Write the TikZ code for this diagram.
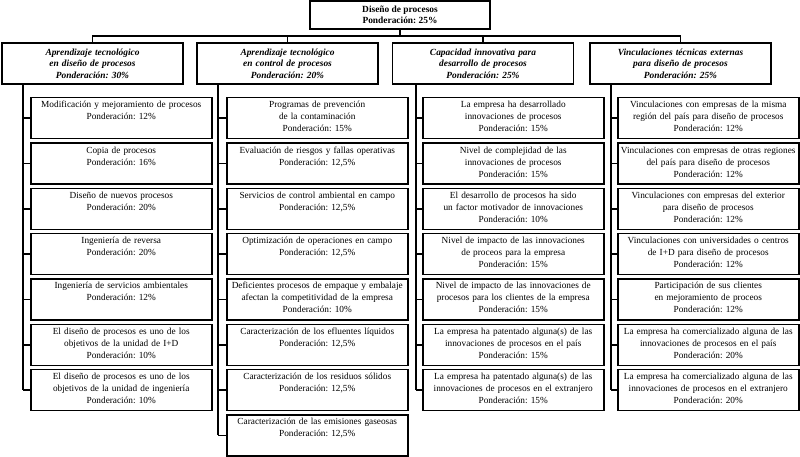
\documentclass[tikz,border=0pt]{standalone}
\usepackage{fontspec}
\setmainfont{Liberation Serif}
\usetikzlibrary{calc}
\usetikzlibrary{positioning}

\tikzset{
  box/.style={draw, rectangle, line width=1.5pt, align=center},
  rootbox/.style={box, minimum width=180pt, minimum height=28pt, inner sep=1pt,
    font=\fontsize{9.4}{11.5}\selectfont\bfseries},
  headbox/.style={box, minimum width=181pt, minimum height=41pt, text width=177pt,
    inner sep=1pt, font=\fontsize{9.4}{11.5}\selectfont\bfseries\itshape},
  leafbox/.style={box, anchor=north west, text width=179pt, inner xsep=1pt,
    inner ysep=3pt, text height=7pt, text depth=28pt},
  link/.style={line width=1.5pt}
}

\begin{document}
\frenchspacing
\begin{tikzpicture}[x=1pt, y=-1pt, font=\fontsize{9.3}{12}\selectfont]
  % Constants
  \pgfmathsetmacro\p{45.3}
  \pgfmathsetmacro\ytop{97}
  % Boundary
  \path[use as bounding box] (0,0) rectangle (800,457);
  % Root and headers
  \node[rootbox] (root) at (400,15) {Diseño de procesos\\Ponderación: 25\%};
  \node[headbox] (h1) at (92.5,63.5) {Aprendizaje tecnológico\\en diseño de procesos\\Ponderación: 30\%};
  \node[headbox] (h2) at (287.5,63.5) {Aprendizaje tecnológico\\en control de procesos\\Ponderación: 20\%};
  \node[headbox] (h3) at (483,63.5) {Capacidad innovativa para\\desarrollo de procesos\\Ponderación: 25\%};
  \node[headbox] (h4) at (680.5,63.5) {Vinculaciones técnicas externas\\para diseño de procesos\\Ponderación: 25\%};
  % Bus
  \coordinate (bus) at (400,36);
  \draw[link] (root) -- (bus);
  \draw[link] (h1.north) |- (bus) -| (h4.north);
  \draw[link] (h2.north) -- (h2.north |- bus);
  \draw[link] (h3.north) -- (h3.north |- bus);
  % Trunks
  \coordinate (t1) at (23,0);
  \coordinate (t2) at (218,0);
  \coordinate (t3) at (416,0);
  \coordinate (t4) at (611,0);
  % Column 1
  \foreach \txt [count=\k] in {
      {Modificación y mejoramiento de procesos\\Ponderación: 12\%},
      {Copia de procesos\\Ponderación: 16\%},
      {Diseño de nuevos procesos\\Ponderación: 20\%},
      {Ingeniería de reversa\\Ponderación: 20\%},
      {Ingeniería de servicios ambientales\\Ponderación: 12\%},
      {El diseño de procesos es uno de los\\objetivos de la unidad de I+D\\Ponderación: 10\%},
      {El diseño de procesos es uno de los\\objetivos de la unidad de ingeniería\\Ponderación: 10\%}}
  {
    \node[leafbox] (a\k) at (30,{\ytop+(\k-1)*\p}) {\txt};
    \draw[link] (t1 |- a\k.west) -- (a\k.west);
  }
  \draw[link] (h1.south -| t1) -- (t1 |- a7.west);
  % Column 2
  \foreach \txt [count=\k] in {
      {Programas de prevención\\de la contaminación\\Ponderación: 15\%},
      {Evaluación de riesgos y fallas operativas\\Ponderación: 12,5\%},
      {Servicios de control ambiental en campo\\Ponderación: 12,5\%},
      {Optimización de operaciones en campo\\Ponderación: 12,5\%},
      {Deficientes procesos de empaque y embalaje\\afectan la competitividad de la empresa\\Ponderación: 10\%},
      {Caracterización de los efluentes líquidos\\Ponderación: 12,5\%},
      {Caracterización de los residuos sólidos\\Ponderación: 12,5\%},
      {Caracterización de las emisiones gaseosas\\Ponderación: 12,5\%}}
  {
    \node[leafbox] (b\k) at (226,{\ytop+(\k-1)*\p}) {\txt};
    \draw[link] (t2 |- b\k.west) -- (b\k.west);
  }
  \draw[link] (h2.south -| t2) -- (t2 |- b8.west);
  % Column 3
  \foreach \txt [count=\k] in {
      {La empresa ha desarrollado\\innovaciones de procesos\\Ponderación: 15\%},
      {Nivel de complejidad de las\\innovaciones de procesos\\Ponderación: 15\%},
      {El desarrollo de procesos ha sido\\un factor motivador de innovaciones\\Ponderación: 10\%},
      {Nivel de impacto de las innovaciones\\de proceos para la empresa\\Ponderación: 15\%},
      {Nivel de impacto de las innovaciones de\\procesos para los clientes de la empresa\\Ponderación: 15\%},
      {La empresa ha patentado alguna(s) de las\\innovaciones de procesos en el país\\Ponderación: 15\%},
      {La empresa ha patentado alguna(s) de las\\innovaciones de procesos en el extranjero\\Ponderación: 15\%}}
  {
    \node[leafbox] (c\k) at (422,{\ytop+(\k-1)*\p}) {\txt};
    \draw[link] (t3 |- c\k.west) -- (c\k.west);
  }
  \draw[link] (h3.south -| t3) -- (t3 |- c7.west);
  % Column 4
  \foreach \txt [count=\k] in {
      {Vinculaciones con empresas de la misma\\región del país para diseño de procesos\\Ponderación: 12\%},
      {Vinculaciones con empresas de otras regiones\\del país para diseño de procesos\\Ponderación: 12\%},
      {Vinculaciones con empresas del exterior\\para diseño de procesos\\Ponderación: 12\%},
      {Vinculaciones con universidades o centros\\de I+D para diseño de procesos\\Ponderación: 12\%},
      {Participación de sus clientes\\en mejoramiento de proceos\\Ponderación: 12\%},
      {La empresa ha comercializado alguna de las\\innovaciones de procesos en el país\\Ponderación: 20\%},
      {La empresa ha comercializado alguna de las\\innovaciones de procesos en el extranjero\\Ponderación: 20\%}}
  {
    \node[leafbox] (d\k) at (617,{\ytop+(\k-1)*\p}) {\txt};
    \draw[link] (t4 |- d\k.west) -- (d\k.west);
  }
  \draw[link] (h4.south -| t4) -- (t4 |- d7.west);
\end{tikzpicture}
\end{document}
